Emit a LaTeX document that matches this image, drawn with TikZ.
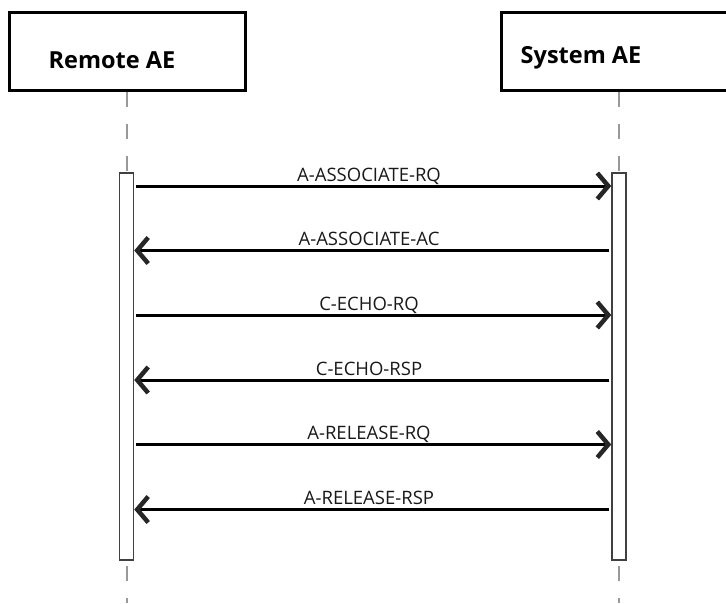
\documentclass[tikz,border=0pt]{standalone}
\usepackage{fontspec}
\setmainfont{Open Sans}
\usetikzlibrary{arrows.meta}
\begin{document}
\begin{tikzpicture}[x=1pt,y=-1pt,
  actor/.style={draw=black,line width=3pt,fill=white,rectangle,inner sep=0pt},
  actorlabel/.style={font=\bfseries\fontsize{23.5}{26}\selectfont,anchor=base,inner sep=0pt},
  lifeline/.style={draw=black!40,line width=2pt,dash pattern=on 15pt off 17pt},
  actbar/.style={draw=black!75,line width=1.5pt,fill=white,rectangle,inner sep=0pt,minimum width=14pt,minimum height=387pt},
  msg/.style={draw=black,line width=3pt,-{Straight Barb[length=11pt,width=26pt,line width=4.5pt,color=black!85]}},
  msglabel/.style={font=\fontsize{18.5}{20}\selectfont,text=black!90,anchor=base,inner sep=0pt}
]
\useasboundingbox (0,0) rectangle (726,603);
% actor boxes
\node[actor,minimum width=236pt,minimum height=78pt] (ra) at (127,51) {};
\node[actor,minimum width=228pt,minimum height=78pt] (sa) at (615,51) {};
\node[actorlabel] (ral) at (112,68) {Remote AE};
\node[actorlabel] (sal) at (581,63) {System AE};
% activation bars
\node[actbar] (bl) at (126.5,366.5) {};
\node[actbar] (br) at (619,366.5) {};
% lifelines
\coordinate (endl) at (126.5,603);
\coordinate (endr) at (619,603);
\draw[lifeline] (ra.south -| bl.north) -- (bl.north);
\draw[lifeline] (sa.south -| br.north) -- (br.north);
\draw[lifeline] ([yshift=-5pt]bl.south) -- (endl);
\draw[lifeline] ([yshift=-5pt]br.south) -- (endr);
% message endpoints
\foreach \i/\y in {1/186,2/250.5,3/315,4/380,5/444.5,6/509.5}{
  \coordinate (l\i) at (bl.east |- 0,\y);
  \coordinate (r\i) at (br.west |- 0,\y);
}
\draw[msg] ([xshift=2pt]l1) -- (r1);
\draw[msg] ([xshift=-2pt]r2) -- (l2);
\draw[msg] ([xshift=2pt]l3) -- (r3);
\draw[msg] ([xshift=-2pt]r4) -- (l4);
\draw[msg] ([xshift=2pt]l5) -- (r5);
\draw[msg] ([xshift=-2pt]r6) -- (l6);
% labels
\node[msglabel] (t1) at (369,181) {A-ASSOCIATE-RQ};
\node[msglabel] (t2) at (369,245.5) {A-ASSOCIATE-AC};
\node[msglabel] (t3) at (369,310) {C-ECHO-RQ};
\node[msglabel] (t4) at (369,375) {C-ECHO-RSP};
\node[msglabel] (t5) at (369,439.5) {A-RELEASE-RQ};
\node[msglabel] (t6) at (369,504.5) {A-RELEASE-RSP};
\end{tikzpicture}
\end{document}
